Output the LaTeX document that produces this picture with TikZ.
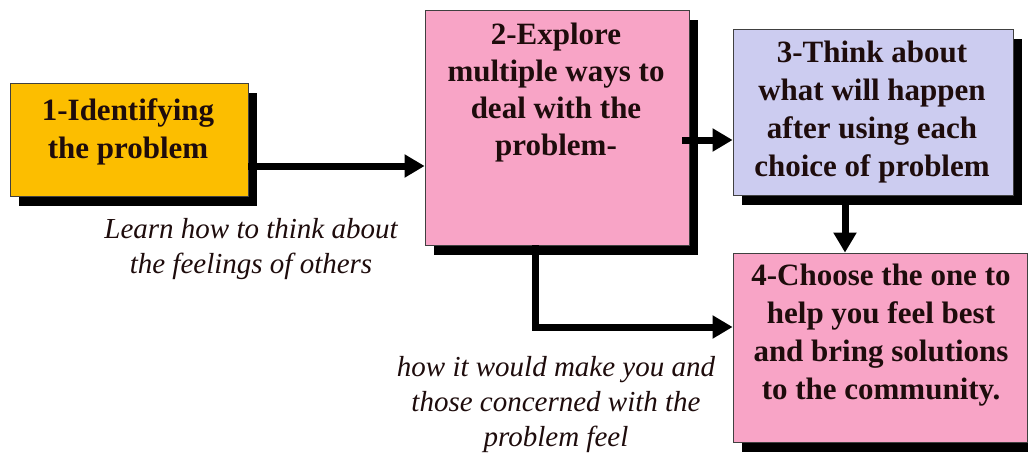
\documentclass[tikz,border=0pt]{standalone}
\usepackage{fontspec}
\setmainfont{Liberation Serif}
\usetikzlibrary{arrows.meta,calc,shadows}
\definecolor{orangebox}{RGB}{252,190,0}
\definecolor{pinkbox}{RGB}{248,164,198}
\definecolor{lavbox}{RGB}{204,204,240}
\definecolor{inkdark}{RGB}{30,12,12}
\begin{document}
\begin{tikzpicture}[x=1pt,y=-1pt,
  box/.style={draw=black!75,line width=0.8pt,inner sep=0pt,
    drop shadow={shadow xshift=9pt,shadow yshift=-10pt,fill=black,opacity=1}},
  boxtext/.style={inner sep=0pt,anchor=north,align=center,text=inkdark,
    font=\fontsize{31}{38}\selectfont\bfseries},
  note/.style={inner sep=0pt,anchor=north,align=center,text=inkdark,
    font=\fontsize{29}{35}\selectfont\itshape},
  arr/.style={line width=7pt,line join=miter,-{Triangle[length=20pt,width=22pt]}}]
\clip (0,0) rectangle (1028,453);
\useasboundingbox (0,0) rectangle (1028,453);
\fill[white] (0,0) rectangle (1028,453);
% boxes
\node[box,fill=orangebox,minimum width=238pt,minimum height=113pt] (b1) at (129,139.5) {};
\node[box,fill=pinkbox,minimum width=264pt,minimum height=235pt] (b2) at (557,127.5) {};
\node[box,fill=lavbox,minimum width=280pt,minimum height=166pt] (b3) at (873,112) {};
\node[box,fill=pinkbox,minimum width=294pt,minimum height=189pt] (b4) at (880,347.5) {};
% box texts
\node[boxtext] (t1) at (128,98) {1-Identifying\\the problem};
\node[boxtext,font=\fontsize{31}{37}\selectfont\bfseries] (t2) at (556,23) {2-Explore\\multiple ways to\\deal with the\\problem-};
\node[boxtext] (t3) at (872,41) {3-Think about\\what will happen\\after using each\\choice of problem};
\node[boxtext] (t4) at (881,264) {4-Choose the one to\\help you feel best\\and bring solutions\\to the community.};
% notes
\node[note] (n1) at (251,218) {Learn how to think about\\the feelings of others};
\node[note] (n2) at (556,356) {how it would make you and\\those concerned with the\\problem feel};
% connector helpers
\coordinate (c12) at (0,166);
\coordinate (c23) at (682,140);
\coordinate (c34) at (845,0);
\coordinate (c24) at (535,327);
% connectors
\draw[arr] (b1.east |- c12) -- (b2.west |- c12);
\draw[arr] (c23) -- (b3.west |- c23);
\draw[arr] ($(b3.south -| c34)+(0,10)$) -- (b4.north -| c34);
\draw[arr] (b2.south -| c24) |- (b4.west |- c24);
\end{tikzpicture}
\end{document}
